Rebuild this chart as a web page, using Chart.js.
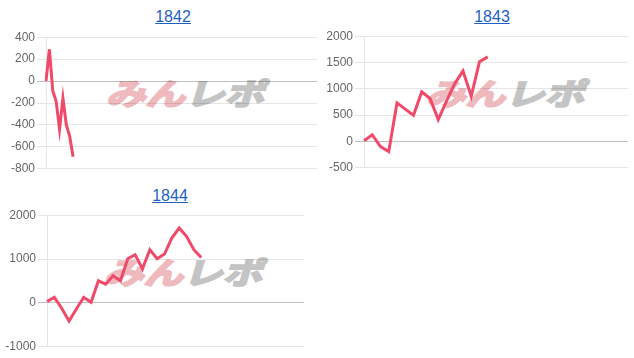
<!DOCTYPE html>
<html>
<head>
<meta charset="utf-8">
<script src="https://cdn.jsdelivr.net/npm/chart.js@4/dist/chart.umd.min.js"></script>
<style>
  html, body { margin: 0; padding: 0; background: #fff; }
  body { width: 634px; height: 358px; position: relative; overflow: hidden; font-family: "Liberation Sans", Arial, Helvetica, sans-serif; }
  .title { position: absolute; font-size: 16px; color: #1f5fbf; text-decoration: underline; transform: translateX(-50%); white-space: nowrap; line-height: 1; }
  .box { position: absolute; }
  .wm { position: absolute; font-family: "Noto Sans CJK JP", sans-serif; font-weight: 700; font-size: 30px; line-height: 1; white-space: nowrap; transform: skewX(-16deg) scaleX(1.32); transform-origin: left top; }
  .wm .a { color: rgb(238, 186, 190); -webkit-text-stroke: 2px rgb(238, 186, 190); }
  .wm .b { color: rgb(196, 196, 196); -webkit-text-stroke: 2px rgb(196, 196, 196); }
</style>
</head>
<body>
<a class="title" style="left:173px; top:9px;">1842</a>
<a class="title" style="left:492px; top:9px;">1843</a>
<a class="title" style="left:170px; top:188px;">1844</a>

<div class="wm" style="left:114px; top:77px;"><span class="a">みん</span><span class="b">レポ</span></div>
<div class="wm" style="left:434px; top:77px;"><span class="a">みん</span><span class="b">レポ</span></div>
<div class="wm" style="left:112px; top:256px;"><span class="a">みん</span><span class="b">レポ</span></div>

<div class="box" style="left:0px; top:28px; width:317px; height:150px;"><canvas id="c1"></canvas></div>
<div class="box" style="left:318px; top:27px; width:310px; height:150px;"><canvas id="c2"></canvas></div>
<div class="box" style="left:1px; top:206px; width:303px; height:150px;"><canvas id="c3"></canvas></div>

<script>
// ---- data (cumulative balance per entry) ----
const values1842 = [0, 290, -90, -185, -440, -155, -400, -505, -690];
const values1843 = [13, 128, -96, -191, 733, 615, 497, 943, 817, 415, 765, 1100, 1339, 861, 1517, 1607];
const values1844 = [30, 128, -120, -413, -137, 128, 14, 504, 427, 618, 504, 1007, 1099, 779, 1214, 1007, 1114, 1480, 1708, 1518, 1214, 1037];

// number of x slots on each axis (entries in the year, x labels hidden)
const slots1842 = 81;
const slots1843 = 33;
const slots1844 = 36;

// y tick ranges
const yTicks1842 = [-800, -600, -400, -200, 0, 200, 400];
const yTicks1843 = [-500, 0, 500, 1000, 1500, 2000];
const yTicks1844 = [-1000, 0, 1000, 2000];

function makeLabels(n) { const a = []; for (let i = 1; i <= n; i++) a.push(String(i)); return a; }

function makeChart(id, labels, values, ticks) {
  const min = ticks[0], max = ticks[ticks.length - 1], step = ticks[1] - ticks[0];
  return new Chart(document.getElementById(id), {
    type: 'line',
    data: {
      labels: labels,
      datasets: [{
        data: values,
        borderColor: 'rgb(240, 74, 106)',
        backgroundColor: 'rgb(240, 74, 106)',
        borderWidth: 3,
        pointRadius: 0,
        pointHoverRadius: 0,
        tension: 0,
        fill: false
      }]
    },
    options: {
      responsive: true,
      maintainAspectRatio: false,
      animation: false,
      layout: { padding: 0 },
      plugins: { legend: { display: false }, tooltip: { enabled: false }, title: { display: false } },
      scales: {
        x: { display: false, offset: false },
        y: {
          min: min, max: max,
          ticks: {
            stepSize: step, color: '#666',
            font: { family: '"Liberation Sans", Arial, Helvetica, sans-serif', size: 12 },
            padding: 2,
            callback: (v) => String(v)
          },
          grid: {
            color: (c) => (c.tick && c.tick.value === 0) ? 'rgba(0,0,0,0.25)' : 'rgba(0,0,0,0.1)',
            tickLength: 9,
            drawTicks: true
          },
          border: { color: 'rgba(0,0,0,0.1)' },
          afterFit: (s) => { s.width = 46; }
        }
      }
    }
  });
}

makeChart('c1', makeLabels(slots1842), values1842, yTicks1842);
makeChart('c2', makeLabels(slots1843), values1843, yTicks1843);
makeChart('c3', makeLabels(slots1844), values1844, yTicks1844);
</script>
</body>
</html>
